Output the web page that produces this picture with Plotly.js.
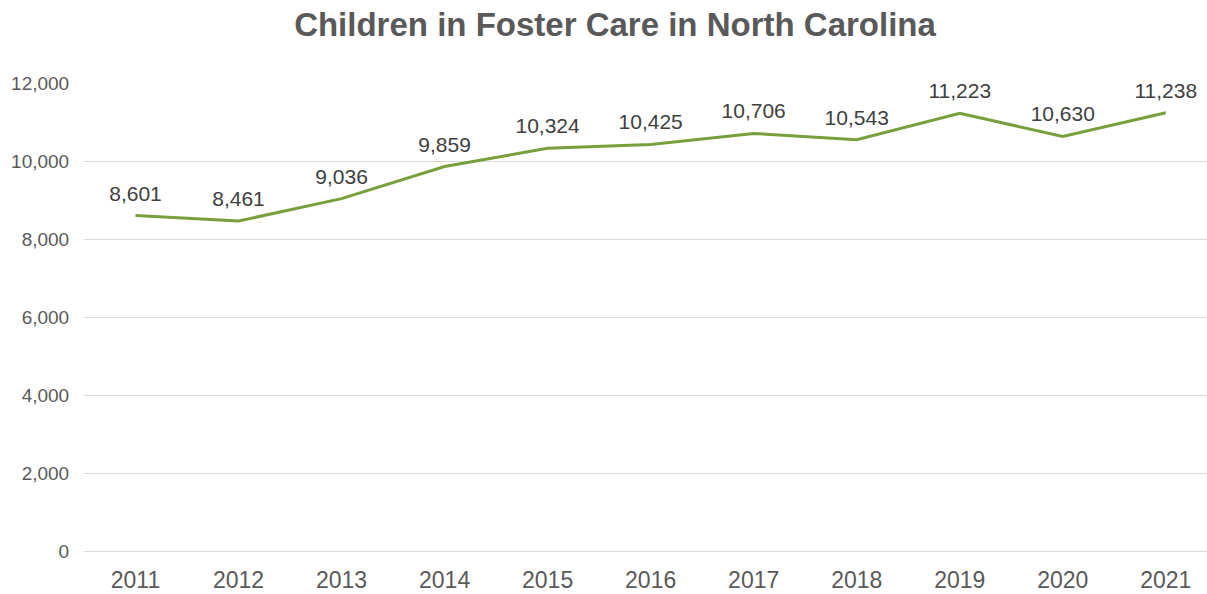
<!DOCTYPE html>
<html>
<head>
<meta charset="utf-8">
<script src="https://cdn.plot.ly/plotly-3.0.1.min.js"></script>
<style>html,body{margin:0;padding:0;background:#fff;}#chart{width:1207px;height:594px;}</style>
</head>
<body>
<div id="chart"></div>
<script>
const years = ['2011','2012','2013','2014','2015','2016','2017','2018','2019','2020','2021'];
const children = [8601, 8461, 9036, 9859, 10324, 10425, 10706, 10543, 11223, 10630, 11238];
const yTicks = [0, 2000, 4000, 6000, 8000, 10000, 12000];
const titleText = 'Children in Foster Care in North Carolina';

const font = '"Liberation Sans", Arial, sans-serif';

Plotly.newPlot('chart', [{
  type: 'scatter',
  mode: 'lines+markers+text',
  x: years,
  y: children,
  line: {color: '#77A03C', width: 3},
  marker: {size: 14, color: 'rgba(0,0,0,0)', line: {width: 0}},
  texttemplate: '%{y:,}',
  textposition: 'top center',
  textfont: {family: font, size: 21, color: '#404040'},
  cliponaxis: false,
  hoverinfo: 'skip'
}], {
  width: 1207,
  height: 594,
  margin: {l: 84, r: 0, t: 83, b: 42.5, pad: 0},
  paper_bgcolor: '#ffffff',
  plot_bgcolor: '#ffffff',
  showlegend: false,
  title: {
    text: titleText,
    font: {family: font, size: 33, color: '#595959', weight: 'bold'},
    x: 615 / 1207,
    xref: 'container',
    xanchor: 'center',
    y: 1 - 24 / 594,
    yref: 'container',
    yanchor: 'middle'
  },
  xaxis: {
    type: 'category',
    range: [-0.5, 10.4],
    showgrid: false,
    zeroline: false,
    showline: false,
    ticks: 'outside',
    ticklen: 8,
    tickcolor: 'rgba(0,0,0,0)',
    tickfont: {family: font, size: 23, color: '#595959'},
    fixedrange: true
  },
  yaxis: {
    range: [0, 12000],
    tickvals: yTicks,
    tickformat: ',',
    showgrid: true,
    gridcolor: '#D9D9D9',
    gridwidth: 1,
    zeroline: true,
    zerolinecolor: '#D9D9D9',
    zerolinewidth: 1,
    showline: false,
    ticks: 'outside',
    ticklen: 10,
    tickcolor: 'rgba(0,0,0,0)',
    tickfont: {family: font, size: 19, color: '#595959'},
    fixedrange: true
  }
}, {displayModeBar: false, staticPlot: true});
</script>
</body>
</html>
